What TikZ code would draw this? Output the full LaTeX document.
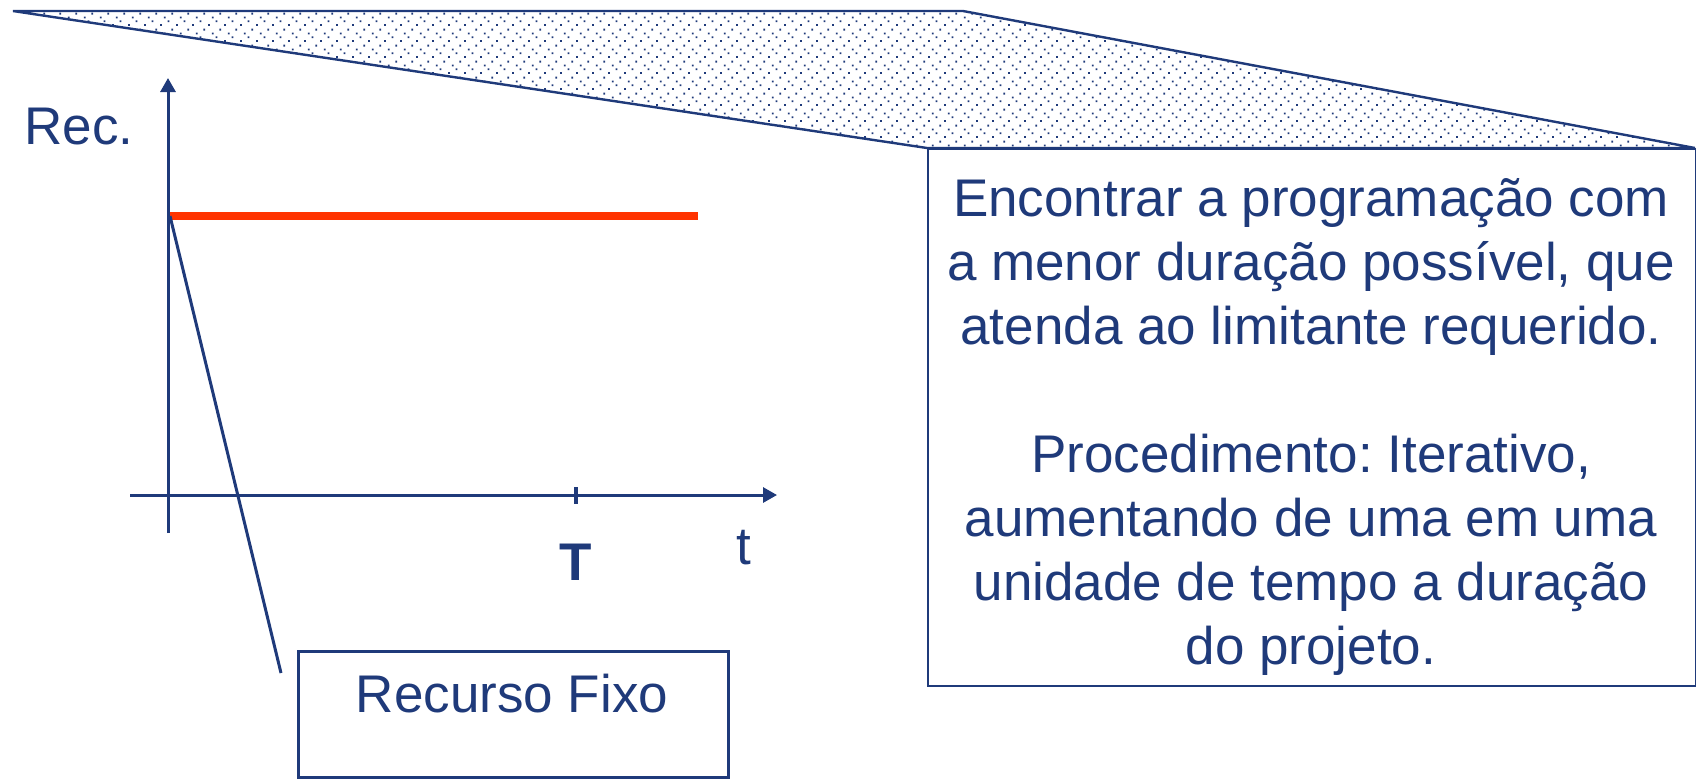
\documentclass[tikz,border=0pt]{standalone}
\usepackage{fontspec}
\setmainfont{Liberation Sans}
\usetikzlibrary{patterns,arrows.meta}
\definecolor{navy}{RGB}{31,58,122}
\definecolor{redline}{RGB}{255,51,0}
\pgfdeclarepatternformonly{navydots}{\pgfqpoint{0pt}{0pt}}{\pgfqpoint{8pt}{8pt}}{\pgfqpoint{8pt}{8pt}}{%
  \pgfpathrectangle{\pgfqpoint{0pt}{0pt}}{\pgfqpoint{1pt}{1pt}}%
  \pgfpathrectangle{\pgfqpoint{4pt}{2pt}}{\pgfqpoint{1pt}{1pt}}%
  \pgfpathrectangle{\pgfqpoint{2pt}{4pt}}{\pgfqpoint{1pt}{1pt}}%
  \pgfpathrectangle{\pgfqpoint{6pt}{6pt}}{\pgfqpoint{1pt}{1pt}}%
  \pgfusepath{fill}}
\frenchspacing
\begin{document}
\begin{tikzpicture}[x=0.5pt,y=-0.5pt,
  txt/.style={text=navy, font=\fontsize{26.5}{32}\selectfont, inner sep=0pt},
  axisline/.style={draw=navy, line width=1.5pt},
  arrowaxis/.style={axisline, -{Triangle[length=7pt,width=7.5pt]}},
  bandline/.style={draw=navy, line width=1.2pt, line join=miter},
  thinbox/.style={draw=navy, line width=0.8pt, inner sep=0pt, anchor=north west},
  thickbox/.style={draw=navy, line width=1.5pt, inner sep=0pt, anchor=north west},
  resline/.style={draw=redline, line width=4pt}]
\useasboundingbox (0,0) rectangle (1696,778);
% callout band
\coordinate (bandA) at (13,11);
\coordinate (bandB) at (963,11);
\coordinate (bandC) at (1695,148);
\coordinate (bandD) at (927,148);
\fill[pattern=navydots, pattern color=navy] (bandA) -- (bandB) -- (bandC) -- (bandD) -- cycle;
% goal box
\node[thinbox, minimum width=384pt, minimum height=268.5pt] (goal) at (927,148) {};
\draw[bandline] (bandA) -- (bandB) -- (bandC) -- (bandD) -- cycle;
\node[txt, align=center] (goaltext) at (1311,427) {Encontrar a programação com\\a menor duração possível, que\\atenda ao limitante requerido.\\[32pt]Procedimento: Iterativo,\\aumentando de uma em uma\\unidade de tempo a duração\\do projeto.};
% axes
\coordinate (ybot) at (168,533);
\coordinate (ytop) at (168,78);
\coordinate (xleft) at (130,495);
\coordinate (xright) at (777,495);
\draw[arrowaxis] (ybot) -- (ytop);
\draw[arrowaxis] (xleft) -- (xright);
\coordinate (tickt) at (576,487);
\coordinate (tickb) at (576,504);
\draw[draw=navy, line width=2pt] (tickt) -- (tickb);
\node[txt] (rec) at (79,127) {Rec.};
\node[txt, font=\fontsize{26.5}{32}\selectfont\bfseries] (T) at (576,562) {T};
\node[txt] (t) at (744,548) {t};
% resource level
\coordinate (r0) at (170,216);
\coordinate (r1) at (698,216);
\draw[resline] (r0) -- (r1);
% Recurso Fixo callout
\node[thickbox, minimum width=215pt, minimum height=63pt] (rfbox) at (297,650) {};
\node[txt] (rf) at (512,694) {Recurso Fixo};
\coordinate (rfend) at (281,673);
\draw[axisline] (r0) -- (rfend);
\end{tikzpicture}
\end{document}
